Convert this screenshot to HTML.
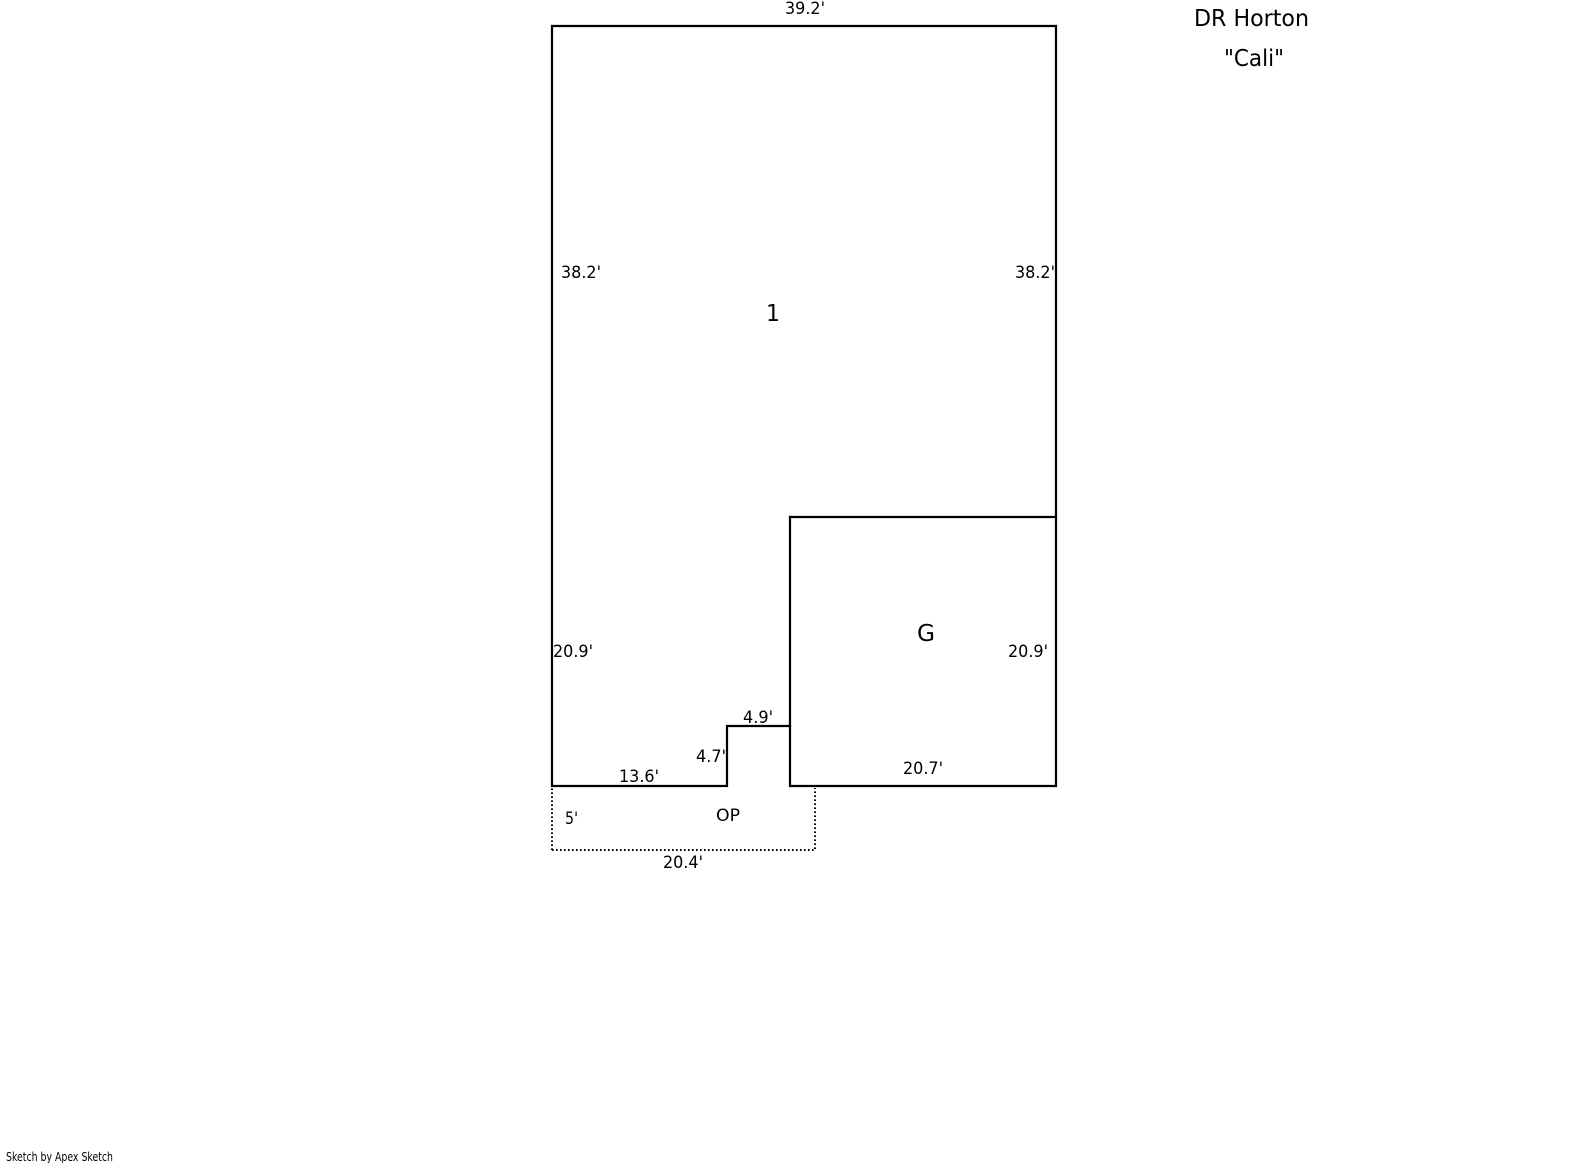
<!DOCTYPE html>
<html>
<head>
<meta charset="utf-8">
<style>
html,body{margin:0;padding:0;background:#fff;}
svg{display:block;}
text{font-family:"DejaVu Sans","Liberation Sans",sans-serif;fill:#000;}
</style>
</head>
<body>
<svg width="1585" height="1163" viewBox="0 0 1585 1163" xmlns="http://www.w3.org/2000/svg">
<rect width="1585" height="1163" fill="#fff"/>
<g fill="none" stroke="#000" stroke-width="2.2" stroke-linejoin="miter" stroke-linecap="square">
<path d="M552 26H1056V786H790V726H727V786H552Z"/>
<path d="M790 517H1056"/>
<path d="M790 517V726"/>
</g>
<path d="M552 850V788M552 850H815V788" fill="none" stroke="#000" stroke-width="2" stroke-dasharray="1.6 2.4"/>
<g font-size="17">
<text x="785" y="14" textLength="40" lengthAdjust="spacingAndGlyphs">39.2'</text>
<text x="561" y="278" textLength="40" lengthAdjust="spacingAndGlyphs">38.2'</text>
<text x="1015" y="278" textLength="40" lengthAdjust="spacingAndGlyphs">38.2'</text>
<text x="553" y="657" textLength="40" lengthAdjust="spacingAndGlyphs">20.9'</text>
<text x="1008" y="657" textLength="40" lengthAdjust="spacingAndGlyphs">20.9'</text>
<text x="903" y="774" textLength="40" lengthAdjust="spacingAndGlyphs">20.7'</text>
<text x="619" y="782" textLength="40" lengthAdjust="spacingAndGlyphs">13.6'</text>
<text x="696" y="762" textLength="30" lengthAdjust="spacingAndGlyphs">4.7'</text>
<text x="743" y="723" textLength="30" lengthAdjust="spacingAndGlyphs">4.9'</text>
<text x="565" y="824" textLength="13" lengthAdjust="spacingAndGlyphs">5'</text>
<text x="716" y="821" textLength="24" lengthAdjust="spacingAndGlyphs">OP</text>
<text x="663" y="868" textLength="40" lengthAdjust="spacingAndGlyphs">20.4'</text>
</g>
<g font-size="23">
<text x="766" y="321" textLength="14" lengthAdjust="spacingAndGlyphs">1</text>
<text x="917" y="641" textLength="18" lengthAdjust="spacingAndGlyphs">G</text>
<text x="1194" y="26" textLength="115" lengthAdjust="spacingAndGlyphs">DR Horton</text>
<text x="1224" y="66" textLength="60" lengthAdjust="spacingAndGlyphs">"Cali"</text>
</g>
<text x="6" y="1161" font-size="12" textLength="107" lengthAdjust="spacingAndGlyphs">Sketch by Apex Sketch</text>
</svg>
</body>
</html>
